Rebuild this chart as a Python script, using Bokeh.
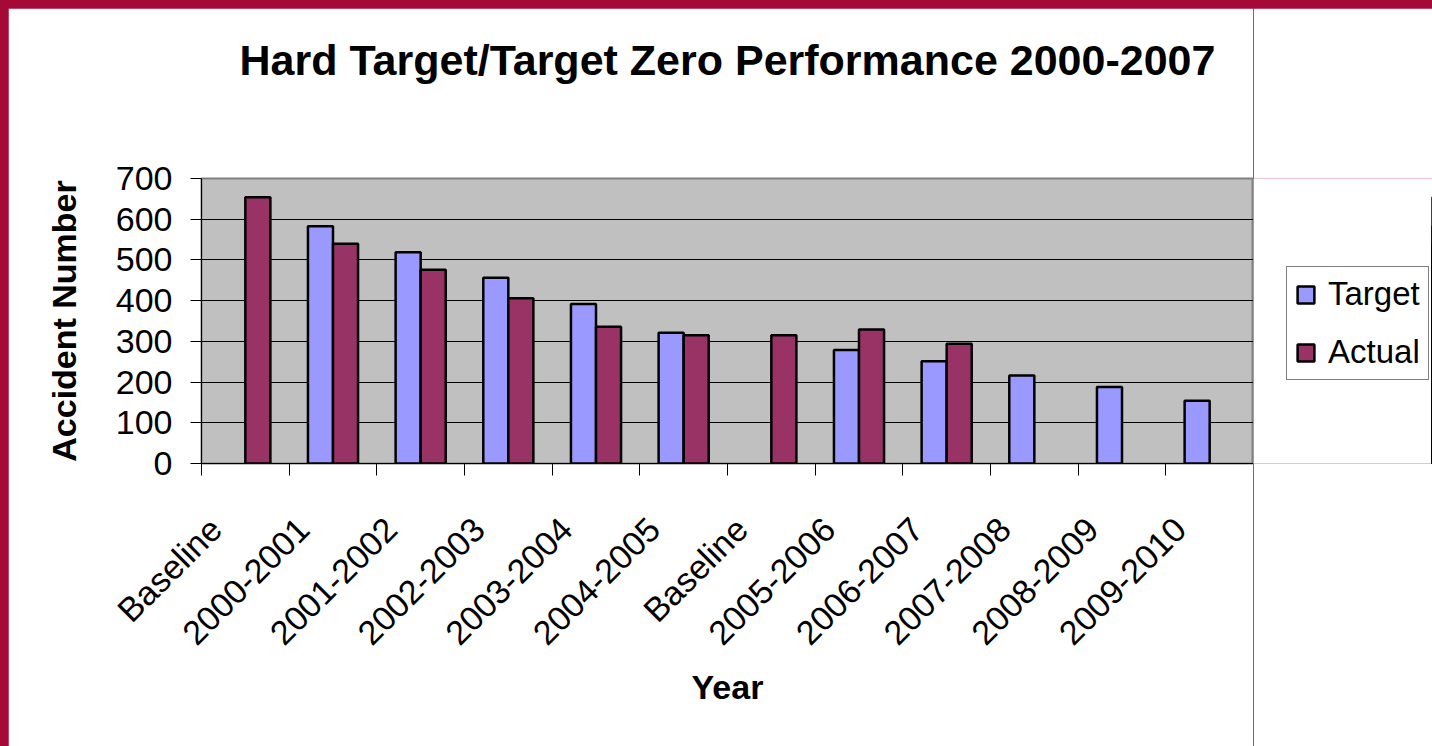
import math
from bokeh.plotting import figure
from bokeh.layouts import row
from bokeh.models import (ColumnDataSource, Range1d, FixedTicker, Legend, LegendItem,
                          LinearAxis)
from bokeh.embed import file_html
from bokeh.resources import INLINE

# ---- data ----
categories = ["Baseline", "2000-2001", "2001-2002", "2002-2003", "2003-2004", "2004-2005",
              "Baseline", "2005-2006", "2006-2007", "2007-2008", "2008-2009", "2009-2010"]
target = [None, 583, 519, 456, 392, 321, None, 279, 251, 216, 188, 154]
actual = [654, 540, 476, 406, 336, 315, 315, 329, 294, None, None, None]
y_ticks = [0, 100, 200, 300, 400, 500, 600, 700]
title_text = "Hard Target/Target Zero Performance 2000-2007"

TARGET_COLOR = "#9999FF"
ACTUAL_COLOR = "#993366"
FONT = "Liberation Sans"

n = len(categories)
bar_w = 1 / 3.5          # Excel gap width 150%
centers = [i + 0.5 for i in range(n)]
label_pos = [i + 0.16 for i in range(n)]   # rotated labels end left of the centre, as in Excel

t_src = ColumnDataSource(dict(
    x=[centers[i] - bar_w / 2 for i in range(n) if target[i] is not None],
    top=[v for v in target if v is not None]))
a_src = ColumnDataSource(dict(
    x=[centers[i] + bar_w / 2 for i in range(n) if actual[i] is not None],
    top=[v for v in actual if v is not None]))

p = figure(frame_width=1052, frame_height=285, output_backend="svg", toolbar_location=None,
           x_range=Range1d(0, n), y_range=Range1d(0, 700),
           min_border_left=193, min_border_right=0,
           min_border_top=170, min_border_bottom=283)
p.title = None
p.background_fill_color = "#C0C0C0"
p.border_fill_color = "white"
p.outline_line_color = "#808080"
p.outline_line_width = 2

p.vbar(x="x", top="top", width=bar_w, bottom=0, source=t_src,
       fill_color=TARGET_COLOR, line_color="black", line_width=2.5)
p.vbar(x="x", top="top", width=bar_w, bottom=0, source=a_src,
       fill_color=ACTUAL_COLOR, line_color="black", line_width=2.5)

# grid
p.xgrid.visible = False
p.ygrid.ticker = FixedTicker(ticks=y_ticks)
p.ygrid.grid_line_color = "black"
p.ygrid.grid_line_width = 1

# y axis
ya = p.yaxis[0]
ya.ticker = FixedTicker(ticks=y_ticks)
ya.axis_line_color = "black"
ya.major_tick_in = 0
ya.major_tick_out = 11
ya.minor_tick_line_color = None
ya.major_label_text_font = FONT
ya.major_label_text_font_size = "34px"
ya.major_label_text_color = "black"
ya.major_label_standoff = 18
ya.axis_label = "Accident Number"
ya.axis_label_text_font = FONT
ya.axis_label_text_font_size = "34px"
ya.axis_label_text_font_style = "bold"
ya.axis_label_text_color = "black"
ya.axis_label_standoff = 30

# x axis (below)
xa = p.below[0]
xa.ticker = FixedTicker(ticks=label_pos, minor_ticks=list(range(n + 1)))
xa.major_label_overrides = {c: lab for c, lab in zip(label_pos, categories)}
xa.major_tick_line_color = None
xa.major_tick_in = 0
xa.major_tick_out = 12
xa.minor_tick_in = 0
xa.minor_tick_out = 12
xa.minor_tick_line_color = "black"
xa.axis_line_color = "black"
xa.major_label_orientation = math.pi / 4
xa.major_label_text_font = FONT
xa.major_label_text_font_size = "34px"
xa.major_label_text_color = "black"
xa.major_label_standoff = 48
xa.axis_label = "Year"
xa.axis_label_text_font = FONT
xa.axis_label_text_font_size = "34px"
xa.axis_label_text_font_style = "bold"
xa.axis_label_text_color = "black"
xa.axis_label_standoff = 0

# chart title, as the label of a bare axis above the plot area
top_ax = LinearAxis(ticker=FixedTicker(ticks=[]), axis_label=title_text,
                    axis_line_color=None, major_tick_line_color=None,
                    minor_tick_line_color=None, major_tick_out=0, major_tick_in=0,
                    minor_tick_out=0, minor_tick_in=0, major_label_standoff=0)
top_ax.axis_label_text_font = FONT
top_ax.axis_label_text_font_size = "43px"
top_ax.axis_label_text_font_style = "bold"
top_ax.axis_label_text_color = "black"
top_ax.axis_label_standoff = 95
p.add_layout(top_ax, "above")

# legend panel to the right of the chart (its frame lines up with the chart's frame)
q = figure(width=179, height=738, output_backend="svg", toolbar_location=None,
           x_range=Range1d(-20, -19), y_range=Range1d(0, 700),
           min_border_left=0, min_border_right=0, min_border_top=0, min_border_bottom=0)
q.title = None
q.axis.visible = False
q.grid.visible = False
q.outline_line_color = None
q.background_fill_color = "white"
q.background_fill_alpha = 1
q.border_fill_color = "white"
lt = q.vbar(x="x", top="top", width=bar_w, bottom=0, source=t_src,
            fill_color=TARGET_COLOR, line_color="black", line_width=2.5)
la = q.vbar(x="x", top="top", width=bar_w, bottom=0, source=a_src,
            fill_color=ACTUAL_COLOR, line_color="black", line_width=2.5)

lg = Legend(items=[LegendItem(label="Target", renderers=[lt]),
                   LegendItem(label="Actual", renderers=[la])],
            location=(33, 83))
lg.border_line_color = "black"
lg.border_line_width = 1
lg.background_fill_color = "white"
lg.background_fill_alpha = 1
lg.label_text_font = FONT
lg.label_text_font_size = "33px"
lg.label_text_color = "black"
lg.glyph_width = 21
lg.glyph_height = 21
lg.label_standoff = 12
lg.padding = 8
lg.spacing = 20
lg.margin = 0
q.add_layout(lg, "center")

layout = row(p, q, spacing=0)

html = file_html(layout, INLINE)
html = html.replace("</head>",
    "<style>html,body{margin:0;padding:0;overflow:hidden;background:#A50A37;}"
    "body{margin:8px 0 0 8px !important;}</style></head>", 1)
open("out.html", "w").write(html)
